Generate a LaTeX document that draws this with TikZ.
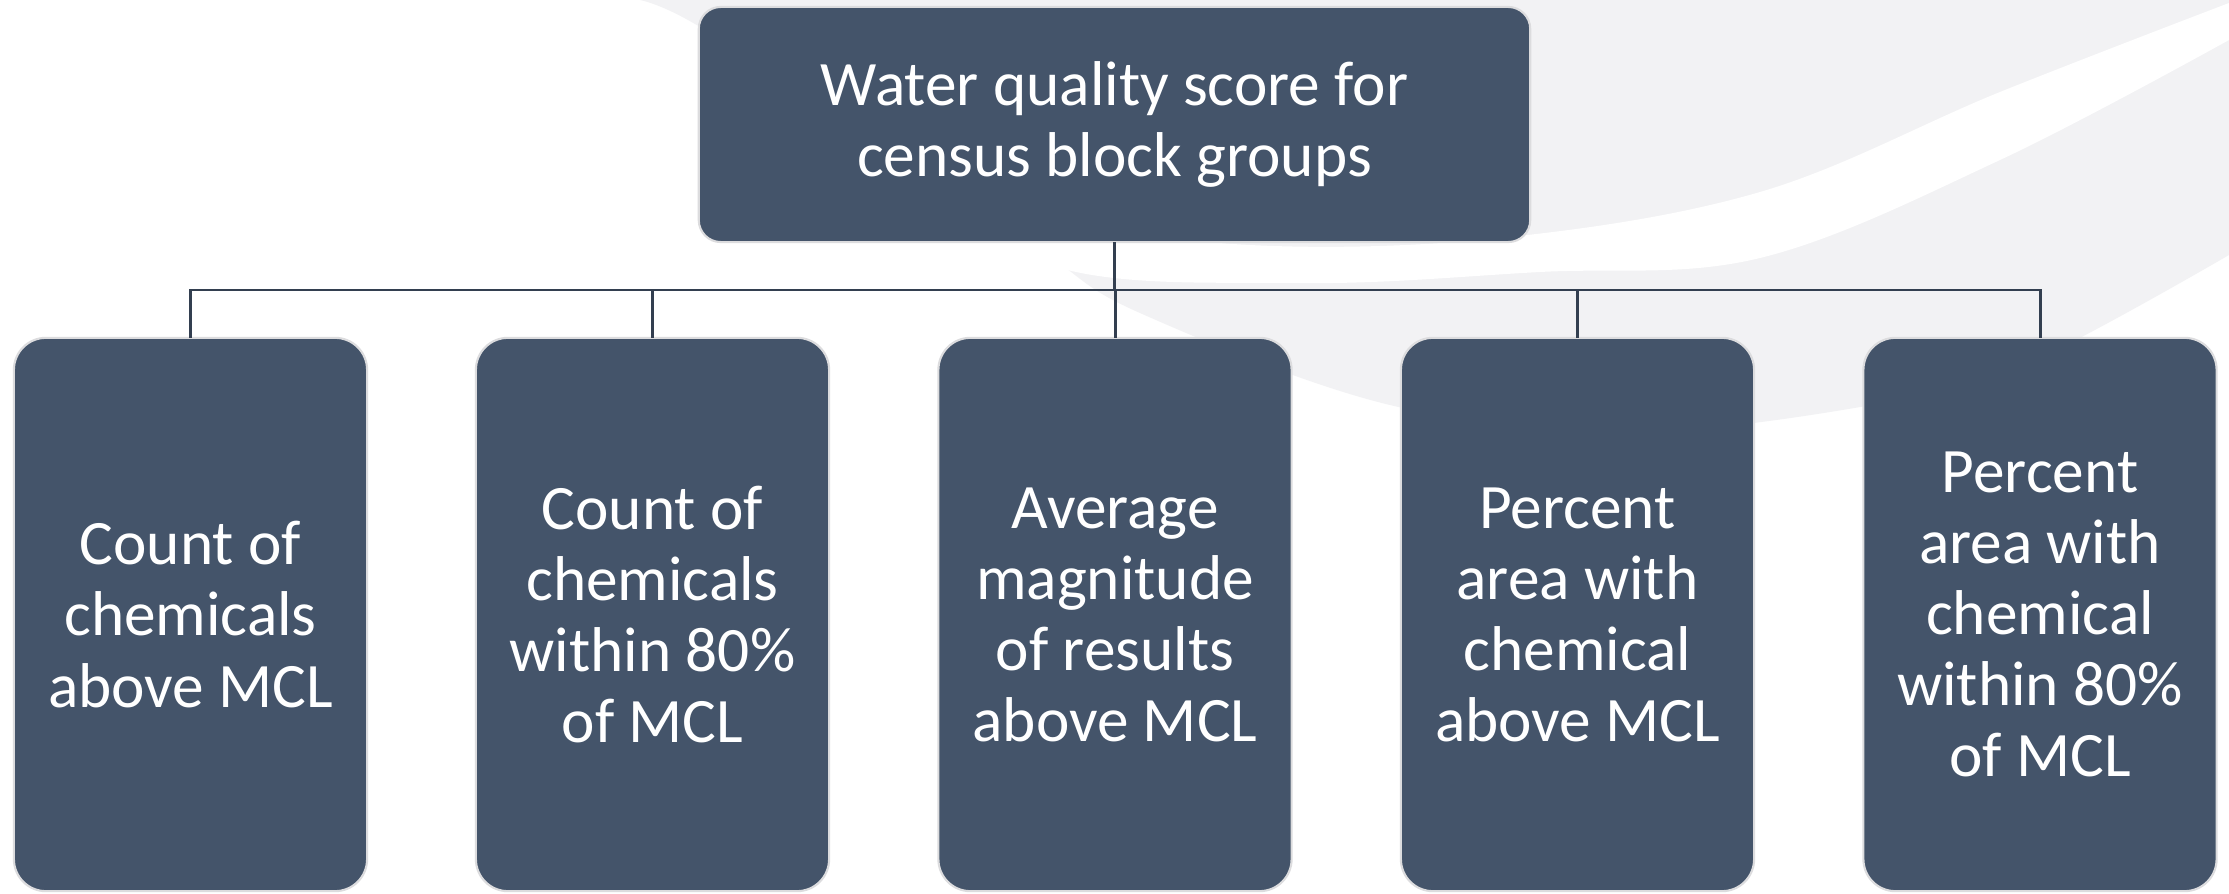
\documentclass[tikz,border=0pt]{standalone}
\usepackage{fontspec}
\setmainfont{Carlito}
\definecolor{boxfill}{HTML}{44546A}
\definecolor{boxedge}{HTML}{DCDCDE}
\definecolor{linkcol}{HTML}{333F50}
\definecolor{bggray}{HTML}{F2F2F4}
\begin{document}
\begin{tikzpicture}[x=0.01cm,y=-0.01cm,
  boxbase/.style={draw=boxedge, line width=0.6pt, fill=boxfill, text=white,
    align=center, inner sep=0pt, outer sep=0pt,
    font=\fontsize{18pt}{20.2pt}\selectfont},
  topbox/.style={boxbase, rounded corners=0.22cm,
    minimum width=8.31cm, minimum height=2.35cm},
  childbox/.style={boxbase, rounded corners=0.32cm,
    minimum width=3.53cm, minimum height=5.53cm},
  link/.style={draw=linkcol, line width=0.85pt}]
% canvas
\useasboundingbox (0,0) rectangle (2229,894);
\fill[white] (0,0) rectangle (2229,894);
% soft grey swoosh in the background
\fill[bggray] plot[smooth, tension=0.6] coordinates
  {(640,0) (700,27) (870,140) (1040,250) (1140,313) (1390,405)
   (1636,432) (1900,400) (2035,360) (2229,255)}
  -- (2229,0) -- cycle;
\fill[white] plot[smooth, tension=0.6] coordinates
  {(2229,3) (2000,92) (1760,192) (1500,238) (1250,245) (1050,215) (900,150)}
  -- plot[smooth, tension=0.6] coordinates
  {(900,150) (1050,265) (1300,283) (1540,272) (1760,258) (2000,160) (2229,40)}
  -- cycle;
% boxes
\node[topbox] (top) at (1114.5,124.5)
  {Water quality score for\\census block groups};
\node[childbox] (c1) at (190.5,614.5) {Count of\\chemicals\\above MCL};
\node[childbox] (c2) at (652.5,614.5) {Count of\\chemicals\\within 80\%\\of MCL};
\node[childbox] (c3) at (1115,614.5) {Average\\magnitude\\of results\\above MCL};
\node[childbox] (c4) at (1577.5,614.5) {Percent\\area with\\chemical\\above MCL};
\node[childbox] (c5) at (2040,614.5) {Percent\\area with\\chemical\\within 80\%\\of MCL};
% connectors
\coordinate (bus) at (1114.5,290);
\draw[link] (top.south) -- (bus);
\foreach \c in {c1,c2,c3,c4,c5}
  \draw[link] (\c.north) |- (bus);
\end{tikzpicture}
\end{document}
